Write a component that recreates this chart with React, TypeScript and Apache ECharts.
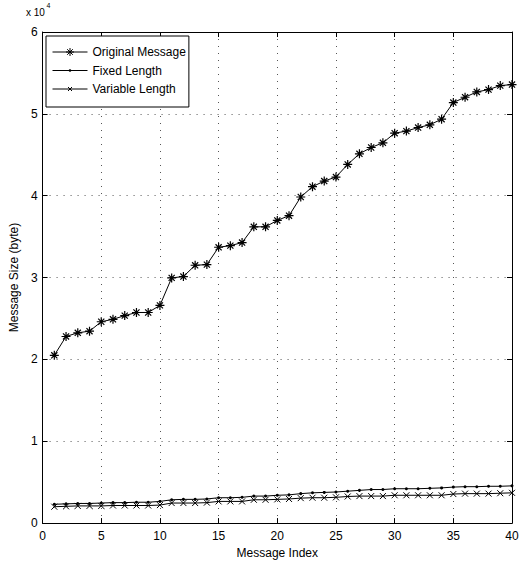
import React, { useEffect, useRef } from "react";
import * as echarts from "echarts";

const messageIndex = Array.from({ length: 40 }, (_, i) => i + 1);

const originalMessage = [
  20500, 22800, 23250, 23450, 24600, 24900, 25350, 25730, 25730, 26600,
  29960, 30120, 31500, 31580, 33700, 33900, 34270, 36200, 36200, 36980,
  37560, 39840, 41100, 41790, 42280, 43820, 45120, 45890, 46460, 47640,
  47890, 48330, 48660, 49350, 51380, 52030, 52680, 52960, 53450, 53580,
];

const fixedLength = [
  2300, 2350, 2400, 2400, 2450, 2500, 2500, 2550, 2550, 2650,
  2850, 2900, 2900, 2950, 3100, 3100, 3150, 3300, 3300, 3400,
  3450, 3600, 3700, 3750, 3800, 3900, 4000, 4100, 4100, 4200,
  4200, 4200, 4250, 4300, 4400, 4450, 4450, 4500, 4500, 4550,
];

const variableLength = [
  2000, 2050, 2100, 2100, 2100, 2150, 2150, 2150, 2150, 2200,
  2450, 2450, 2450, 2500, 2650, 2650, 2650, 2850, 2850, 2900,
  2950, 3050, 3100, 3100, 3150, 3250, 3300, 3300, 3300, 3400,
  3400, 3400, 3400, 3400, 3550, 3600, 3600, 3600, 3650, 3700,
];

const seriesNames = ["Original Message", "Fixed Length", "Variable Length"];

const FONT = "'Liberation Sans', Arial, Helvetica, sans-serif";
const ASTERISK = "path://M5 0 L5 10 M0 5 L10 5 M1.6 1.6 L8.4 8.4 M1.6 8.4 L8.4 1.6";
const CROSS = "path://M0 0 L10 10 M0 10 L10 0";

// legend icons: 35px line with a small marker in the middle
const LEGEND_ASTERISK =
  "path://M0 6 L35 6 M17.5 2 L17.5 10 M13.5 6 L21.5 6 M14.7 3.2 L20.3 8.8 M14.7 8.8 L20.3 3.2";
const LEGEND_DOT = "path://M0 6 L35 6 M16.8 5.3 L18.2 5.3 L18.2 6.7 L16.8 6.7 Z";
const LEGEND_CROSS = "path://M0 6 L35 6 M15.5 4 L19.5 8 M15.5 8 L19.5 4";

export default function App() {
  const ref = useRef<HTMLDivElement>(null);

  useEffect(() => {
    if (!ref.current) return;
    const chart = echarts.init(ref.current, null, { renderer: "svg" });

    const pair = (arr: number[]) => messageIndex.map((x, i) => [x, arr[i]]);
    const gridLine = {
      show: true,
      lineStyle: { color: "#555", type: [1, 6] as any, width: 1 },
    };
    const legendItemStyle = { color: "#000", borderColor: "#000", borderWidth: 1 };

    chart.setOption({
      animation: false,
      backgroundColor: "#fff",
      textStyle: { fontFamily: FONT },
      grid: { left: 41, right: 14, top: 32, bottom: 40 },
      legend: {
        left: 46,
        top: 36,
        orient: "vertical",
        data: [
          { name: seriesNames[0], icon: LEGEND_ASTERISK, itemStyle: legendItemStyle },
          { name: seriesNames[1], icon: LEGEND_DOT, itemStyle: legendItemStyle },
          { name: seriesNames[2], icon: LEGEND_CROSS, itemStyle: legendItemStyle },
        ],
        itemWidth: 35,
        itemHeight: 12,
        itemGap: 6.5,
        padding: [10, 3, 12, 6],
        borderColor: "#000",
        borderWidth: 1,
        backgroundColor: "#fff",
        textStyle: { fontSize: 12, color: "#000", fontFamily: FONT },
      },
      xAxis: [
        {
          type: "value",
          min: 0,
          max: 40,
          interval: 5,
          name: "Message Index",
          nameLocation: "middle",
          nameGap: 20,
          nameTextStyle: { fontSize: 12, color: "#000", fontFamily: FONT },
          axisLine: { show: true, lineStyle: { color: "#000", width: 1 } },
          axisTick: { show: true, inside: true, length: 5, lineStyle: { color: "#000" } },
          axisLabel: { fontSize: 12, color: "#000", margin: 7, fontFamily: FONT },
          splitLine: gridLine,
        },
        {
          type: "value",
          position: "top",
          min: 0,
          max: 40,
          interval: 5,
          axisLine: { show: true, onZero: false, lineStyle: { color: "#000", width: 1 } },
          axisTick: { show: true, inside: true, length: 5, lineStyle: { color: "#000" } },
          axisLabel: { show: false },
          splitLine: { show: false },
        },
      ],
      yAxis: [
        {
          type: "value",
          min: 0,
          max: 60000,
          interval: 10000,
          name: "Message Size (byte)",
          nameLocation: "middle",
          nameGap: 15,
          nameTextStyle: { fontSize: 12, color: "#000", fontFamily: FONT },
          axisLine: { show: true, lineStyle: { color: "#000", width: 1 } },
          axisTick: { show: true, inside: true, length: 5, lineStyle: { color: "#000" } },
          axisLabel: {
            fontSize: 12,
            color: "#000",
            margin: 5,
            fontFamily: FONT,
            formatter: (v: number) => String(v / 10000),
          },
          splitLine: gridLine,
        },
        {
          type: "value",
          position: "right",
          min: 0,
          max: 60000,
          interval: 10000,
          axisLine: { show: true, onZero: false, lineStyle: { color: "#000", width: 1 } },
          axisTick: { show: true, inside: true, length: 5, lineStyle: { color: "#000" } },
          axisLabel: { show: false },
          splitLine: { show: false },
        },
      ],
      graphic: [
        {
          type: "text",
          left: 26,
          top: 7,
          style: { text: "x 10", fontSize: 10, fontFamily: FONT, fill: "#000" },
        },
        {
          type: "text",
          left: 46.5,
          top: 2,
          style: { text: "4", fontSize: 7, fontFamily: FONT, fill: "#000" },
        },
      ],
      series: [
        {
          name: seriesNames[0],
          type: "line",
          data: pair(originalMessage),
          symbol: ASTERISK,
          symbolSize: 9,
          color: "#000",
          itemStyle: { color: "#000", borderColor: "#000", borderWidth: 1.2 },
          lineStyle: { color: "#000", width: 1 },
        },
        {
          name: seriesNames[1],
          type: "line",
          data: pair(fixedLength),
          symbol: "circle",
          symbolSize: 3,
          color: "#000",
          itemStyle: { color: "#000", borderWidth: 0 },
          lineStyle: { color: "#000", width: 1 },
        },
        {
          name: seriesNames[2],
          type: "line",
          data: pair(variableLength),
          symbol: CROSS,
          symbolSize: 6,
          color: "#000",
          itemStyle: { color: "#000", borderColor: "#000", borderWidth: 1 },
          lineStyle: { color: "#000", width: 1 },
        },
      ],
    });

    return () => chart.dispose();
  }, []);

  return (
    <div
      ref={ref}
      style={{ position: "absolute", left: 0, top: 0, width: 526, height: 564 }}
    />
  );
}
